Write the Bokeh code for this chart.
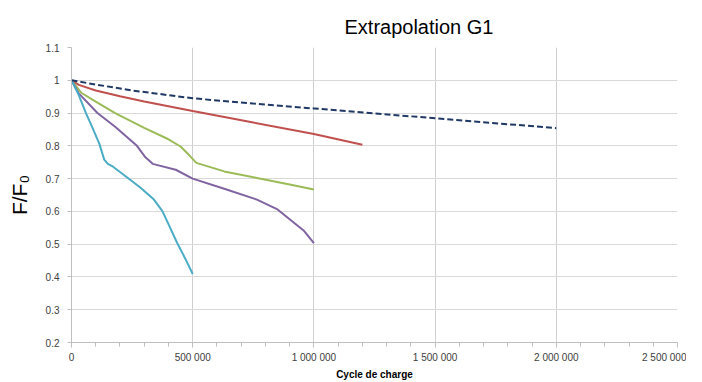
from bokeh.plotting import figure
from bokeh.models import FixedTicker, Title
from bokeh.embed import file_html
from bokeh.resources import INLINE

# ---- data ----
x_dash = [0, 100000, 250000, 500000, 750000, 1000000, 1500000, 2000000]
y_dash = [1.0, 0.987, 0.969, 0.945, 0.929, 0.914, 0.884, 0.854]

x_red = [0, 30000, 100000, 200000, 300000, 500000, 750000, 1000000, 1200000]
y_red = [1.0, 0.986, 0.969, 0.951, 0.935, 0.906, 0.871, 0.836, 0.803]

x_green = [0, 40000, 100000, 180000, 300000, 400000, 450000, 490000, 515000, 630000, 765000, 900000, 1000000]
y_green = [1.0, 0.962, 0.935, 0.900, 0.855, 0.820, 0.798, 0.768, 0.748, 0.722, 0.702, 0.682, 0.667]

x_purple = [0, 30000, 107000, 180000, 270000, 305000, 335000, 430000, 500000, 630000, 765000, 850000, 900000, 960000, 1000000]
y_purple = [1.0, 0.960, 0.900, 0.858, 0.800, 0.765, 0.745, 0.727, 0.700, 0.669, 0.636, 0.606, 0.576, 0.540, 0.503]

x_cyan = [0, 30000, 60000, 85000, 115000, 135000, 150000, 170000, 215000, 285000, 340000, 375000, 400000, 435000, 470000, 500000]
y_cyan = [1.0, 0.955, 0.899, 0.858, 0.806, 0.758, 0.745, 0.737, 0.712, 0.672, 0.636, 0.601, 0.561, 0.505, 0.455, 0.409]

x_ticks = [0, 500000, 1000000, 1500000, 2000000, 2500000]
x_tick_labels = ["0", "500 000", "1 000 000", "1 500 000", "2 000 000", "2 500 000"]
x_minor = [i * 100000 for i in range(26)]
y_ticks = [0.2, 0.3, 0.4, 0.5, 0.6, 0.7, 0.8, 0.9, 1.0, 1.1]
y_tick_labels = ["0.2", "0.3", "0.4", "0.5", "0.6", "0.7", "0.8", "0.9", "1", "1.1"]

p = figure(width=686, height=382, output_backend="svg", toolbar_location=None,
           x_range=(0, 2500000), y_range=(0.2, 1.1),
           min_border_left=71, min_border_right=9, min_border_top=47, min_border_bottom=38)
p.outline_line_color = None
p.background_fill_color = "white"
p.border_fill_color = "white"

# title
t = Title(text="Extrapolation G1", align="left", offset=273,
          text_font="Liberation Sans", text_font_size="20px", text_font_style="normal",
          text_color="#000000", standoff=19)
p.add_layout(t, "above")

# axes
p.xaxis.ticker = FixedTicker(ticks=x_ticks, minor_ticks=x_minor)
p.xaxis.major_label_overrides = {k: v for k, v in zip(x_ticks, x_tick_labels)}
p.yaxis.ticker = FixedTicker(ticks=y_ticks)
p.yaxis.major_label_overrides = {k: v for k, v in zip(y_ticks, y_tick_labels)}

for ax in (p.xaxis[0], p.yaxis[0]):
    ax.axis_line_color = "#BFBFBF"
    ax.major_tick_line_color = "#BFBFBF"
    ax.minor_tick_line_color = "#BFBFBF"
    ax.major_label_text_font = "Liberation Sans"
    ax.major_label_text_font_size = "10px"
    ax.major_label_text_color = "#404040"

p.xaxis.major_tick_in = 0
p.xaxis.major_tick_out = 5
p.xaxis.minor_tick_in = 0
p.xaxis.minor_tick_out = 4
p.xaxis.major_label_standoff = 4
p.xaxis.axis_label = "Cycle de charge"
p.xaxis.axis_label_text_font = "Liberation Sans"
p.xaxis.axis_label_text_font_size = "10px"
p.xaxis.axis_label_text_font_style = "bold"
p.xaxis.axis_label_text_color = "#000000"
p.xaxis.axis_label_standoff = 3

p.yaxis.major_tick_in = 0
p.yaxis.major_tick_out = 4
p.yaxis.minor_tick_line_color = None
p.yaxis.major_label_standoff = 8
p.yaxis.axis_label = "F/F\u2080"
p.yaxis.axis_label_text_font = "Liberation Sans"
p.yaxis.axis_label_text_font_size = "21px"
p.yaxis.axis_label_text_font_style = "normal"
p.yaxis.axis_label_text_color = "#000000"
p.yaxis.axis_label_standoff = 12

p.xgrid.grid_line_color = "#D0D0D0"
p.ygrid.grid_line_color = "#D9D9D9"
p.ygrid.grid_line_width = 1

# series
p.line(x_red, y_red, line_color="#C0504D", line_width=2)
p.line(x_green, y_green, line_color="#9BBB59", line_width=2)
p.line(x_purple, y_purple, line_color="#8064A2", line_width=2)
p.line(x_cyan, y_cyan, line_color="#4BACC6", line_width=2)
p.line(x_dash, y_dash, line_color="#1F3864", line_width=2, line_dash="6 3")

open("out.html", "w").write(file_html(p, INLINE))
